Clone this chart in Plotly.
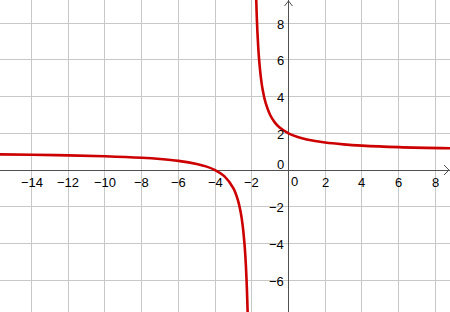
import plotly.graph_objects as go

# Curve: left branch (below/left of the vertical asymptote)
x_left = [-15.72, -14, -12, -10, -8, -7, -6, -5, -4.5, -4, -3.5, -3, -2.75, -2.6, -2.5, -2.4, -2.33, -2.27, -2.22]
y_left = [0.855, 0.833, 0.8, 0.75, 0.667, 0.6, 0.5, 0.333, 0.2, 0.0, -0.333, -1.0, -1.667, -2.333, -3.0, -4.0, -5.06, -6.4, -8.0]

# Right branch
x_right = [-1.77, -1.74, -1.7, -1.65, -1.6, -1.5, -1.4, -1.25, -1.0, -0.75, -0.5, 0, 0.5, 1, 2, 3, 4, 6, 8.8]
y_right = [9.7, 8.7, 7.67, 6.71, 6.0, 5.0, 4.33, 3.67, 3.0, 2.6, 2.33, 2.0, 1.8, 1.667, 1.5, 1.4, 1.333, 1.25, 1.185]

x_ticks = [-14, -12, -10, -8, -6, -4, -2, 2, 4, 6, 8]
y_ticks = [8, 6, 4, 2, -2, -4, -6]

x_range = [-15.72, 8.8]
y_range = [-7.74, 9.27]

RED = "#cc0000"
AXIS = "#505050"
GRID = "#c8c8c8"
FONT = dict(family="Liberation Sans, Arial, sans-serif", size=13, color="#000000")

fig = go.Figure()
for xs, ys in [(x_left, y_left), (x_right, y_right)]:
    fig.add_trace(go.Scatter(x=xs, y=ys, mode="lines",
                             line=dict(color=RED, width=2.6, shape="spline", smoothing=1.0),
                             hoverinfo="skip", showlegend=False))

def minus(v):
    return str(v).replace("-", "\u2212")

ann = []
for v in x_ticks:
    ann.append(dict(x=v, y=0, text=minus(v), showarrow=False, xanchor="center",
                    yanchor="middle", yshift=-12, font=FONT))
ann.append(dict(x=0, y=0, text="0", showarrow=False, xanchor="center",
                yanchor="middle", yshift=-11, xshift=6, font=FONT))
for v in y_ticks:
    ann.append(dict(x=0, y=v, text=minus(v), showarrow=False, xanchor="right",
                    yanchor="middle", xshift=-3, yshift=-1, font=FONT))
ann.append(dict(x=0, y=0, text="0", showarrow=False, xanchor="right",
                yanchor="middle", xshift=-3, yshift=6, font=FONT))

shapes = [
    # y-axis arrow head
    dict(type="path", xref="x", yref="y", xsizemode="pixel", ysizemode="pixel",
         xanchor=0, yanchor=y_range[1], path="M-4,-6 L0,-1 L4,-6",
         line=dict(color=AXIS, width=1)),
    # x-axis arrow head
    dict(type="path", xref="x", yref="y", xsizemode="pixel", ysizemode="pixel",
         xanchor=x_range[1], yanchor=0, path="M-6,5 L-1,0 L-6,-5",
         line=dict(color=AXIS, width=1)),
]

fig.update_layout(
    width=450, height=312,
    margin=dict(l=0, r=0, t=0, b=0),
    paper_bgcolor="white", plot_bgcolor="white",
    annotations=ann, shapes=shapes,
    xaxis=dict(range=x_range, tick0=0, dtick=2, showgrid=True, gridcolor=GRID, gridwidth=1,
               zeroline=True, zerolinecolor=AXIS, zerolinewidth=1,
               showticklabels=False, ticks="", showline=False, fixedrange=True),
    yaxis=dict(range=y_range, tick0=0, dtick=2, showgrid=True, gridcolor=GRID, gridwidth=1,
               zeroline=True, zerolinecolor=AXIS, zerolinewidth=1,
               showticklabels=False, ticks="", showline=False, fixedrange=True),
)

fig.write_html("out.html")
